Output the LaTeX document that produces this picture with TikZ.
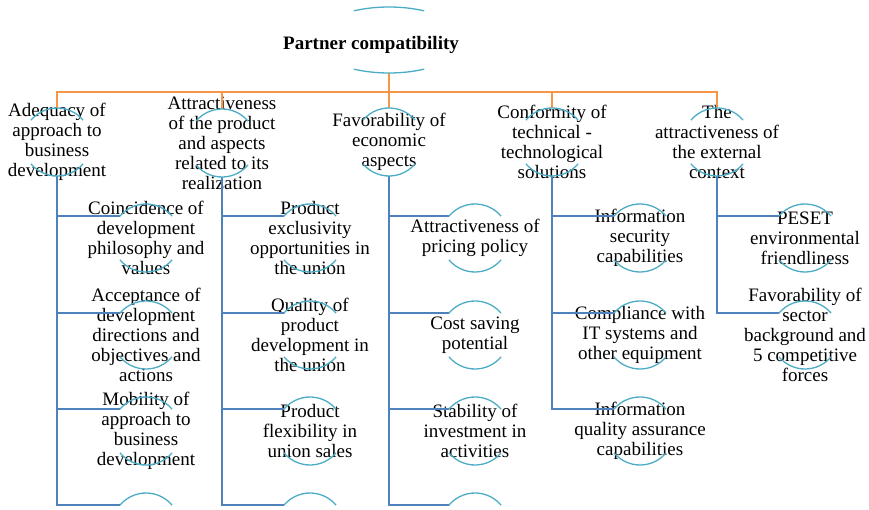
\documentclass[tikz,border=0pt]{standalone}
\usepackage{fontspec}
\setmainfont{Liberation Serif}
\usetikzlibrary{shapes.geometric}

\definecolor{busorange}{RGB}{247,150,70}
\definecolor{linkblue}{RGB}{79,129,189}
\definecolor{arcblue}{RGB}{75,172,198}

\tikzset{
  bubble/.style={circle, minimum size=68pt, inner sep=0pt, outer sep=0pt},
  lbl/.style={align=center, inner sep=0pt, font=\fontsize{19}{20}\selectfont},
  arcline/.style={arcblue, line width=1.3pt},
  bus/.style={busorange, line width=1.6pt},
  link/.style={linkblue, line width=1.6pt}
}

\begin{document}
\begin{tikzpicture}[x=1pt, y=1pt, every label/.style={lbl}]
\clip (0,0) rectangle (869,-510);
% root
\node[ellipse, minimum width=150pt, minimum height=66pt, inner sep=0pt, outer sep=0pt,
  label={[font=\fontsize{19}{20}\selectfont\bfseries, xshift=-18pt, yshift=-5pt]center:Partner compatibility}] (root) at (389,-40) {};
% first level
\node[bubble, label=center:{Adequacy of\\approach to\\business\\development}] (adq) at (57,-142) {};
\node[bubble, label=center:{Attractiveness\\of the product\\and aspects\\related to its\\realization}] (att) at (222,-143) {};
\node[bubble, label=center:{Favorability of\\economic\\aspects}] (fav) at (389,-142) {};
\node[bubble, label=center:{Conformity of\\technical -\\technological\\solutions}] (con) at (552,-142) {};
\node[bubble, label=center:{The\\attractiveness of\\the external\\context}] (ext) at (717,-142) {};
% second level
\node[bubble, label=center:{Coincidence of\\development\\philosophy and\\values}] (adq1) at (146,-238) {};
\node[bubble, label=center:{Acceptance of\\development\\directions and\\objectives and\\actions}] (adq2) at (146,-335) {};
\node[bubble, label=center:{Mobility of\\approach to\\business\\development}] (adq3) at (146,-431) {};
\node[bubble] (adq4) at (146,-527) {};
\node[bubble, label=center:{Product\\exclusivity\\opportunities in\\the union}] (att1) at (310,-238) {};
\node[bubble, label=center:{Quality of\\product\\development in\\the union}] (att2) at (310,-335) {};
\node[bubble, label=center:{Product\\flexibility in\\union sales}] (att3) at (310,-431) {};
\node[bubble] (att4) at (310,-527) {};
\node[bubble, label=center:{Attractiveness of\\pricing policy}] (fav1) at (475,-238) {};
\node[bubble, label=center:{Cost saving\\potential}] (fav2) at (475,-335) {};
\node[bubble, label=center:{Stability of\\investment in\\activities}] (fav3) at (475,-431) {};
\node[bubble] (fav4) at (475,-527) {};
\node[bubble, label=center:{Information\\security\\capabilities}] (con1) at (640,-238) {};
\node[bubble, label=center:{Compliance with\\IT systems and\\other equipment}] (con2) at (640,-335) {};
\node[bubble, label=center:{Information\\quality assurance\\capabilities}] (con3) at (640,-431) {};
\node[bubble, label=center:{PESET\\environmental\\friendliness}] (ext1) at (805,-238) {};
\node[bubble, label=center:{Favorability of\\sector\\background and\\5 competitive\\forces}] (ext2) at (805,-335) {};

% connectors
\coordinate (split) at (389,-92);
\draw[bus] (root.south) -- (split);
\foreach \n in {adq,att,fav,con,ext}
  \draw[bus] (split) -| (\n.north);
\foreach \n/\k in {adq/4,att/4,fav/4,con/3,ext/2}
  \foreach \i in {1,...,\k}
    \draw[link] (\n.south) |- (\n\i.140);

% arcs
\draw[arcline] (root.center) ++(118:75 and 33) arc[start angle=118, end angle=62, x radius=75, y radius=33]
  (root.center) ++(242:75 and 33) arc[start angle=242, end angle=298, x radius=75, y radius=33];
\foreach \n/\k in {adq/4,att/4,fav/4,con/3,ext/2} {
  \draw[arcline] (\n.140) arc[start angle=140, end angle=40, radius=34pt]
    (\n.220) arc[start angle=220, end angle=320, radius=34pt];
  \foreach \i in {1,...,\k}
    \draw[arcline] (\n\i.140) arc[start angle=140, end angle=40, radius=34pt]
      (\n\i.220) arc[start angle=220, end angle=320, radius=34pt];
}
\end{tikzpicture}
\end{document}
